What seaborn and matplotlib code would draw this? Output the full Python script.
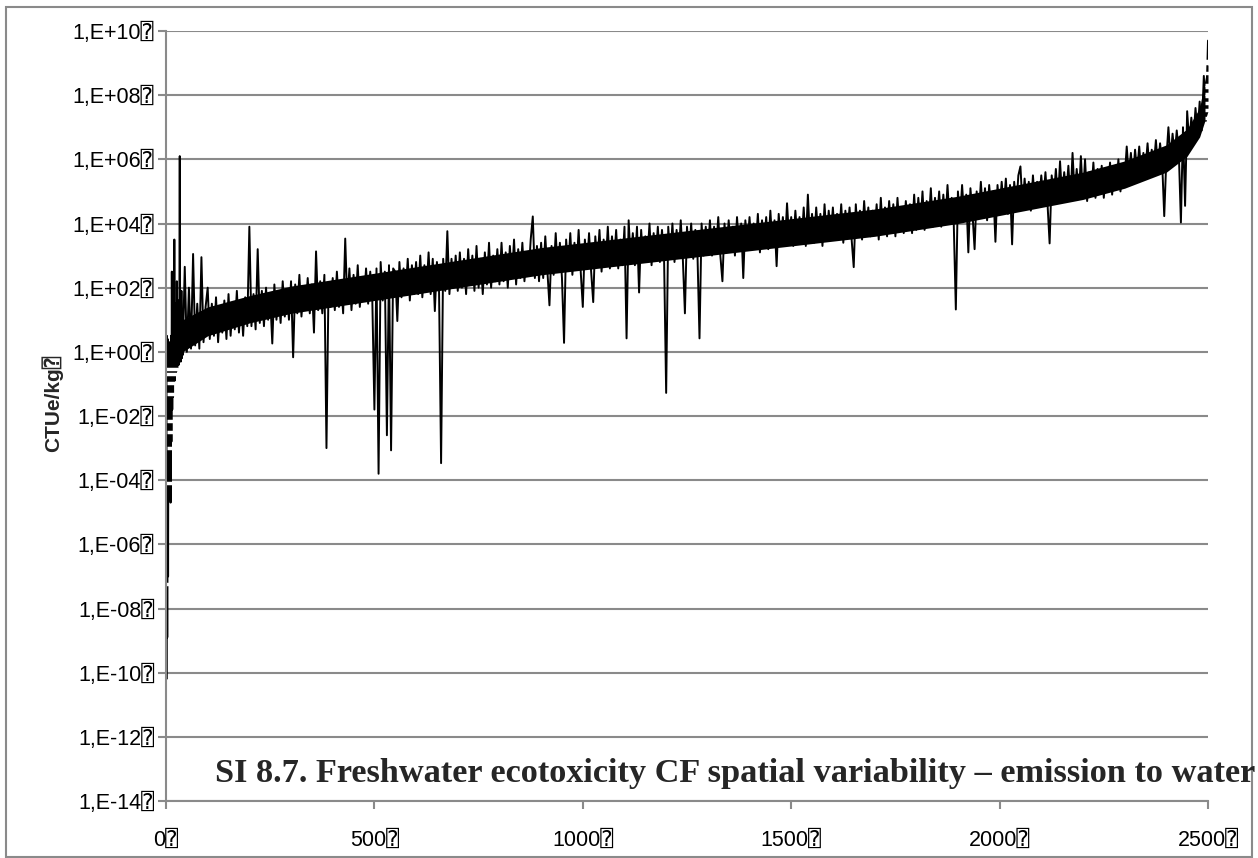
import numpy as np
import pandas as pd
import matplotlib
matplotlib.use('Agg')
import matplotlib.pyplot as plt
import seaborn as sns
from matplotlib.patches import Rectangle
from matplotlib.ticker import FixedLocator, FuncFormatter, NullLocator

# log10 of the CF (CTUe/kg)
# ranks 0..39, step 1
cf_log_a = [0.6, -10.2, 0.5, -8.9, 0.4, -7.0, 0.2, -4.6, 0.3, -3.5,
            0.1, -4.7, 0.5, -2.8, 2.5, -1.8, 0.8, -1.4, 1.2, -1.0,
            3.5, -0.9, 1.5, -0.7, 0.9, -0.6, 2.2, -0.5, 1.0, -0.4,
            1.6, -0.4, 0.8, 6.1, -0.3, 1.4, -0.3, 1.9, -0.2, 1.1]
# ranks 40..495, step 5
cf_log_b = [-0.1, 2.65, 0.0, 2.0, 0.1, 3.05, 0.2, 1.5, 0.1, 2.95, 0.3, 1.4,
            2.0, 0.4, 1.5, 0.5, 1.7, 0.3, 1.4, 0.6, 1.6, 0.4, 1.8, 0.5, 1.5, 0.7, 1.9, 0.6, 1.6, 0.5, 1.7, 0.8,
            3.9, 0.8, 1.8, 0.7, 3.2, 0.9, 1.9, 0.8, 2.0, 1.0, 1.7, 0.26, 2.1, 1.0, 1.8, 0.9, 2.2, 1.1, 1.9, 1.0,
            2.2, -0.17, 2.1, 1.2, 2.4, 1.1, 2.0, 1.3, 2.3, 1.2, 2.1, 0.6, 3.13, 1.3, 2.2, 1.2, 2.4, -3.0, 2.1, 1.4,
            2.3, 1.3, 2.5, 1.4, 2.2, 1.2, 3.53, 1.5, 2.6, 1.3, 2.4, 1.5, 2.7, 1.4, 2.3, 1.6, 2.6, 1.5, 2.5, 1.6]
# ranks 500..995, step 5
cf_log_c = [-1.8, 2.6, -3.8, 2.8, 1.6, 2.5, -2.6, 2.7, -3.07, 2.6, 2.5, 0.96, 2.8, 1.7, 2.6, 1.8, 2.9, 1.6, 2.7, 1.8,
            2.8, 1.8, 3.0, 1.7, 2.7, 1.9, 3.1, 1.8, 2.9, 1.27, 2.8, 2.0, -3.47, 2.9, 1.9, 3.76, 1.8, 2.9, 2.0, 3.0,
            1.9, 3.1, 2.0, 2.9, 1.8, 3.2, 2.1, 3.0, 1.9, 3.3, 2.0, 2.9, 1.8, 3.1, 2.1, 3.4, 2.0, 3.0, 2.2, 3.2,
            2.1, 3.4, 2.2, 3.1, 2.0, 3.3, 2.3, 3.5, 2.1, 3.2, 2.3, 3.4, 2.2, 3.1, 2.4, 3.5, 4.22, 2.3, 3.3, 2.2,
            3.4, 2.3, 3.6, 2.5, 1.45, 3.3, 2.4, 3.7, 2.5, 3.4, 2.3, 0.28, 3.5, 2.6, 3.7, 2.4, 3.4, 2.6, 3.8, 2.5]
# ranks 1000..1495, step 5
cf_log_d = [1.4, 3.5, 2.6, 3.7, 2.5, 1.55, 3.6, 2.7, 3.8, 2.5, 3.5, 2.7, 3.9, 2.6, 3.6, 2.8, 3.8, 2.6, 3.5, 2.7,
            3.9, 0.42, 4.1, 2.8, 3.7, 2.7, 3.9, 1.85, 3.8, 2.8, 3.6, 2.9, 4.0, 2.7, 3.7, 2.9, 3.9, 2.8, 3.8, 2.9,
            -1.28, 3.9, 2.9, 4.0, 2.8, 3.8, 3.0, 4.1, 2.9, 1.2, 3.9, 3.0, 4.0, 2.9, 3.8, 3.1, 0.42, 4.0, 3.0, 3.9,
            3.1, 4.1, 3.0, 3.9, 3.2, 4.2, 3.0, 2.2, 4.0, 3.1, 4.1, 3.2, 3.9, 3.0, 4.2, 3.2, 4.0, 2.3, 4.1, 3.3,
            4.2, 3.2, 4.0, 3.3, 4.3, 3.1, 4.1, 3.4, 4.2, 3.2, 4.4, 3.3, 4.1, 2.67, 4.3, 3.4, 4.2, 3.3, 4.63, 3.5]
# ranks 1500..1995, step 5
cf_log_e = [4.2, 3.3, 4.4, 3.5, 4.2, 3.4, 4.5, 3.3, 4.9, 3.5, 4.3, 3.4, 4.5, 3.6, 4.3, 3.3, 4.6, 3.5, 4.4, 3.6,
            4.5, 3.5, 4.3, 3.6, 4.6, 3.4, 4.4, 3.7, 4.5, 3.5, 2.64, 4.6, 3.6, 4.4, 3.5, 4.7, 3.7, 4.5, 3.6, 4.4,
            3.7, 4.6, 3.5, 4.8, 3.7, 4.5, 3.6, 4.7, 3.8, 4.6, 3.6, 4.8, 3.8, 4.5, 3.7, 4.7, 3.9, 4.6, 3.7, 4.9,
            3.8, 4.8, 3.9, 5.0, 3.8, 4.7, 4.0, 5.1, 3.9, 4.8, 4.1, 5.0, 3.9, 4.9, 4.0, 5.2, 4.1, 4.8, 4.0, 1.32,
            5.0, 4.1, 5.2, 4.2, 4.9, 3.1, 5.1, 4.3, 3.2, 5.0, 4.2, 5.3, 4.3, 5.1, 4.1, 5.2, 4.4, 5.0, 3.43, 5.2]
# ranks 2000..2500, step 5
cf_log_f = [4.4, 5.3, 4.5, 5.4, 4.3, 5.2, 3.35, 5.3, 4.5, 5.5, 5.78, 4.5, 5.4, 4.6, 5.3, 4.4, 5.5, 4.6, 5.3, 4.7,
            5.5, 4.7, 5.6, 4.6, 3.38, 5.5, 4.8, 5.7, 4.7, 5.94, 4.8, 5.6, 4.9, 5.8, 4.7, 6.2, 4.9, 5.7, 4.8, 6.1,
            4.8, 6.0, 4.7, 5.6, 4.9, 5.9, 4.8, 5.7, 5.0, 5.8, 4.8, 5.6, 5.1, 5.9, 4.9, 5.7, 5.1, 6.0, 5.0, 5.8,
            5.4, 6.4, 5.5, 6.2, 5.4, 6.3, 5.6, 6.4, 5.5, 6.2, 5.7, 6.5, 5.6, 6.3, 5.8, 6.6, 5.7, 6.5, 5.9, 4.23,
            6.0, 7.0, 6.0, 6.8, 6.1, 6.9, 6.2, 4.03, 7.0, 4.55, 7.5, 6.5, 7.3, 6.6, 7.6, 6.8, 7.8, 6.9, 8.6, 7.2,
            9.7]

# dense core of the band (where the 2500 points merge into solid black)
core_rank = [40, 100, 200, 300, 400, 500, 600, 700, 800, 900, 1000, 1100, 1200, 1300,
             1400, 1500, 1600, 1700, 1800, 1900, 2000, 2100, 2200, 2300, 2400, 2450, 2480, 2500]
core_lo = [0.0, 0.5, 0.9, 1.2, 1.4, 1.6, 1.8, 2.0, 2.2, 2.4, 2.55, 2.7, 2.85, 3.0,
           3.15, 3.3, 3.45, 3.6, 3.8, 4.0, 4.25, 4.5, 4.75, 5.1, 5.6, 6.1, 6.7, 7.5]
core_hi = [1.0, 1.4, 1.75, 2.05, 2.25, 2.45, 2.65, 2.85, 3.05, 3.25, 3.4, 3.55, 3.7, 3.85,
           4.0, 4.15, 4.3, 4.45, 4.65, 4.85, 5.1, 5.35, 5.6, 5.95, 6.45, 6.95, 7.6, 9.0]

# dash markers visible at both ends of the series
marker_rank = [12, 12, 17, 17, 17, 17, 17, 15, 15,
               2507, 2507, 2507, 2507, 2507, 2507, 2507, 2507, 2507, 2507]
marker_log = [-7.25, -4.1, -2.99, -2.5, -2.16, -1.32, -0.96, -0.7, -0.55,
              9.06, 8.99, 8.68, 8.32, 8.24, 8.03, 7.96, 7.75, 7.55, 7.3]

y_tick_exp = list(range(-14, 11, 2))
x_ticks = [0, 500, 1000, 1500, 2000, 2500]
title_text = 'SI 8.7. Freshwater ecotoxicity CF spatial variability \u2013 emission to water'
y_label = 'CTUe/kg\u2370'
BOX = '\u2370'

rank = np.concatenate([np.arange(0, 40), np.arange(40, 2501, 5)])
cf_log = np.array(cf_log_a + cf_log_b + cf_log_c + cf_log_d + cf_log_e + cf_log_f)
df = pd.DataFrame({'rank': rank, 'cf': 10.0 ** cf_log})
df_m = pd.DataFrame({'rank': marker_rank, 'cf': 10.0 ** np.array(marker_log)})

sns.set_style('white')
plt.rcParams['font.family'] = ['Liberation Sans', 'DejaVu Sans', 'DejaVu Sans Mono']

W, H = 1258, 858
fig = plt.figure(figsize=(W / 100, H / 100), dpi=100)
ax = fig.add_axes([166 / W, 1 - 801 / H, (1208 - 166) / W, (801 - 31) / H])
ax.set_yscale('log')

ax.fill_between(core_rank, 10.0 ** np.array(core_lo), 10.0 ** np.array(core_hi),
                color='black', lw=0)
sns.lineplot(data=df, x='rank', y='cf', color='black', lw=1.4, estimator=None, ax=ax)
sns.lineplot(data=df_m, x='rank', y='cf', color='#333333', linestyle='', marker='_',
             markersize=8, markeredgewidth=2.5, estimator=None, ax=ax, clip_on=False)

ax.set_xlim(0, 2500)
ax.set_ylim(1e-14, 1e10)
ax.yaxis.set_major_locator(FixedLocator([10.0 ** e for e in y_tick_exp]))
ax.yaxis.set_minor_locator(NullLocator())
ax.yaxis.set_major_formatter(FuncFormatter(lambda v, p: '1,E%+03d%s' % (round(np.log10(v)), BOX)))
ax.xaxis.set_major_locator(FixedLocator(x_ticks))
ax.xaxis.set_major_formatter(FuncFormatter(lambda v, p: '%d%s' % (v, BOX)))

grey = '#8a8a8a'
ax.yaxis.grid(True, color=grey, lw=1.5)
ax.xaxis.grid(False)
for s in ['top', 'right']:
    ax.spines[s].set_visible(False)
for s in ['left', 'bottom']:
    ax.spines[s].set_color(grey)
    ax.spines[s].set_linewidth(1.5)
ax.tick_params(left=True, bottom=True, direction='out', length=5.5, width=1.5,
               color=grey, labelsize=15.5, labelcolor='black')
ax.tick_params(axis='y', pad=3)
ax.tick_params(axis='x', pad=15)
ax.set_xlabel('')
ax.set_ylabel('')

fig.text(52 / W, 1 - 403 / H, y_label, rotation=90, ha='center', va='center',
         fontsize=15, fontweight='bold')
fig.text(1255 / W, 1 - 782 / H, title_text, ha='right', va='baseline', fontsize=24.7,
         fontweight='bold', family=['Liberation Serif', 'DejaVu Serif'])

fig.add_artist(Rectangle((5.5 / W, 1 - 857 / H), (1252 - 5.5) / W, (857 - 6.5) / H,
                         fill=False, edgecolor=grey, lw=1.5, transform=fig.transFigure))

fig.savefig('out.png', dpi=100)
